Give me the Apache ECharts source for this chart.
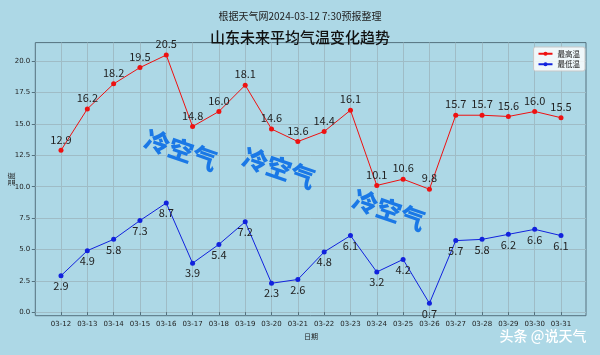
<!DOCTYPE html>
<html><head><meta charset="utf-8">
<script src="https://cdn.jsdelivr.net/npm/echarts@6/dist/echarts.min.js"></script>
<style>html,body{margin:0;padding:0;background:#add8e6}#c{width:600px;height:355px}</style>
</head><body><div id="c"></div>
<script>
var dates = ["03-12","03-13","03-14","03-15","03-16","03-17","03-18","03-19","03-20","03-21","03-22","03-23","03-24","03-25","03-26","03-27","03-28","03-29","03-30","03-31"];
var highTemp = [12.9,16.2,18.2,19.5,20.5,14.8,16.0,18.1,14.6,13.6,14.4,16.1,10.1,10.6,9.8,15.7,15.7,15.6,16.0,15.5];
var lowTemp = [2.9,4.9,5.8,7.3,8.7,3.9,5.4,7.2,2.3,2.6,4.8,6.1,3.2,4.2,0.7,5.7,5.8,6.2,6.6,6.1];
var yTicks = [0,2.5,5,7.5,10,12.5,15,17.5,20];
var seriesNames = ["最高温","最低温"];
var subTitle = "根据天气网2024-03-12 7:30预报整理";
var mainTitle = "山东未来平均气温变化趋势";
var stampText = "冷空气";
var watermark = "头条 @说天气";

var FONT = "'Noto Sans CJK SC','Noto Sans',sans-serif";
var gridColor = "#9fbcc6";
var frame = {left:35.3, right:586, top:42.6, bottom:315.7};
var xPx0 = 60.3, xPx1 = 561;          // pixel of first / last category
var y0px = 312.1, y20px = 61.3;       // pixel of 0 and 20
var pxPerUnit = (y0px - y20px) / 20;
var yMinFrame = -(frame.bottom - y0px) / pxPerUnit;
var yMaxFrame = (y0px - frame.top) / pxPerUnit;

function pts(arr){ return arr.map(function(v,i){ return [i, v]; }); }

var chart = echarts.init(document.getElementById('c'));
chart.setOption({
  backgroundColor: '#add8e6',
  animation: false,
  textStyle: {fontFamily: FONT},
  title: [
    {text: subTitle, left: 'center', top: 6, textStyle: {fontSize: 10, fontWeight: 'normal', color: '#222', fontFamily: FONT}},
    {text: mainTitle, left: 'center', top: 25, textStyle: {fontSize: 15, fontWeight: 500, color: '#111', fontFamily: FONT}}
  ],
  legend: {
    data: seriesNames, orient: 'vertical', right: 15, top: 47,
    itemWidth: 14, itemHeight: 5, itemGap: 3,
    backgroundColor: 'rgba(255,255,255,0.8)', borderColor: '#c8c8c8', borderWidth: 1, borderRadius: 2,
    padding: [3, 5, 3, 4],
    textStyle: {fontSize: 7.5, color: '#222', fontFamily: FONT}
  },
  grid: [
    {left: frame.left, top: frame.top, width: frame.right - frame.left, height: frame.bottom - frame.top,
     show: true, borderColor: '#54717e', borderWidth: 1, backgroundColor: 'transparent'},
    {left: xPx0, top: frame.top, width: xPx1 - xPx0, height: frame.bottom - frame.top},
    {left: frame.left, top: y20px, width: frame.right - frame.left, height: y0px - y20px}
  ],
  xAxis: [
    {gridIndex: 0, type: 'value', min: 0, max: 1, show: false},
    {gridIndex: 1, type: 'value', min: 0, max: dates.length - 1, interval: 1,
     name: '日期', nameLocation: 'middle', nameGap: 15,
     nameTextStyle: {fontSize: 7, color: '#222', fontFamily: FONT},
     axisLine: {show: false},
     axisTick: {show: true, length: 3.5, lineStyle: {color: '#54717e'}},
     axisLabel: {fontSize: 7, color: '#222', margin: 5, fontFamily: "'DejaVu Sans',sans-serif",
       formatter: function(v){ return dates[Math.round(v)] || ''; }},
     splitLine: {show: true, lineStyle: {color: gridColor, width: 1}}},
    {gridIndex: 2, type: 'value', min: 0, max: 1, show: false}
  ],
  yAxis: [
    {gridIndex: 0, type: 'value', min: 0, max: 1, show: false},
    {gridIndex: 1, type: 'value', min: yMinFrame, max: yMaxFrame,
     name: '温度', nameLocation: 'middle', nameGap: 46, nameRotate: 90,
     nameTextStyle: {fontSize: 7, color: '#222', fontFamily: FONT},
     axisLine: {show: false}, axisTick: {show: false}, axisLabel: {show: false}, splitLine: {show: false}},
    {gridIndex: 2, type: 'value', min: yTicks[0], max: yTicks[yTicks.length-1], interval: yTicks[1] - yTicks[0],
     axisLine: {show: false},
     axisTick: {show: true, length: 3.5, lineStyle: {color: '#54717e'}},
     axisLabel: {fontSize: 7, color: '#222', margin: 5, fontFamily: "'DejaVu Sans',sans-serif",
       formatter: function(v){ return v.toFixed(1); }},
     splitLine: {show: true, lineStyle: {color: gridColor, width: 1}}}
  ],
  graphic: [
    {type: 'text', x: 181, y: 150, rotation: -0.33, z: 5,
     style: {text: stampText, fill: '#1a78e6', font: "900 25px " + FONT, textAlign: 'center', textVerticalAlign: 'middle'}},
    {type: 'text', x: 279, y: 168, rotation: -0.33, z: 5,
     style: {text: stampText, fill: '#1a78e6', font: "900 25px " + FONT, textAlign: 'center', textVerticalAlign: 'middle'}},
    {type: 'text', x: 389, y: 210, rotation: -0.33, z: 5,
     style: {text: stampText, fill: '#1a78e6', font: "900 25px " + FONT, textAlign: 'center', textVerticalAlign: 'middle'}},
    {type: 'text', x: 543, y: 336, z: 10,
     style: {text: watermark, fill: '#ffffff', font: "500 14px " + FONT, textAlign: 'center', textVerticalAlign: 'middle',
       shadowColor: 'rgba(0,0,0,0.7)', shadowBlur: 2, shadowOffsetX: 1, shadowOffsetY: 1}}
  ],
  series: [
    {name: seriesNames[0], type: 'line', xAxisIndex: 1, yAxisIndex: 1, data: pts(highTemp),
     symbol: 'circle', symbolSize: 5, clip: false,
     itemStyle: {color: '#ee1111'}, lineStyle: {color: '#ee1111', width: 1},
     label: {show: true, position: 'top', distance: 3, fontSize: 11, color: '#222', fontFamily: FONT,
       formatter: function(p){ return p.value[1].toFixed(1); }}},
    {name: seriesNames[1], type: 'line', xAxisIndex: 1, yAxisIndex: 1, data: pts(lowTemp),
     symbol: 'circle', symbolSize: 5, clip: false,
     itemStyle: {color: '#1122dd'}, lineStyle: {color: '#1122dd', width: 1},
     label: {show: true, position: 'bottom', distance: 2, fontSize: 11, color: '#222', fontFamily: FONT,
       formatter: function(p){ return p.value[1].toFixed(1); }}}
  ]
});
</script>
</body></html>
